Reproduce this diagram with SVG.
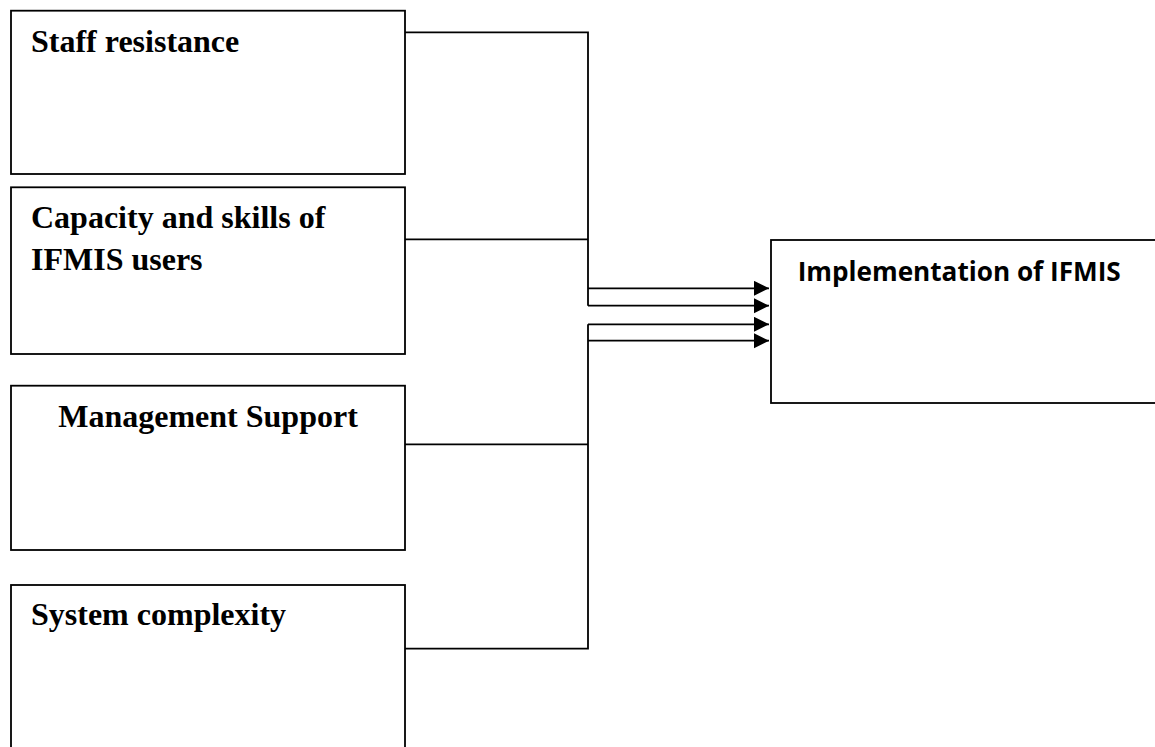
<svg xmlns="http://www.w3.org/2000/svg" width="1155" height="747" viewBox="0 0 1155 747">
<style>
.box{fill:#fff;stroke:#000;stroke-width:1.8}
.t{font-family:"Liberation Serif","Times New Roman",serif;font-weight:bold;font-size:32px;fill:#000}
.c{font-family:"Open Sans","Liberation Sans",sans-serif;font-weight:bold;font-size:26px;fill:#000}
.ln{fill:none;stroke:#000;stroke-width:1.8}
</style>
<defs>
<marker id="ah" markerUnits="userSpaceOnUse" markerWidth="16" markerHeight="16" refX="15" refY="7.5" orient="auto">
<path d="M0,0 L15,7.5 L0,15 Z" fill="#000"/>
</marker>
</defs>
<rect width="1155" height="747" fill="#fff"/>
<g id="connectors">
<path class="ln" d="M405,32.3 H588 V305.7"/>
<path class="ln" d="M405,239.3 H588"/>
<path class="ln" d="M588,288.3 H769" marker-end="url(#ah)"/>
<path class="ln" d="M588,305.7 H769" marker-end="url(#ah)"/>
<path class="ln" d="M405,444.3 H588"/>
<path class="ln" d="M405,648.7 H588 V324.3"/>
<path class="ln" d="M588,324.3 H769" marker-end="url(#ah)"/>
<path class="ln" d="M588,340.7 H769" marker-end="url(#ah)"/>
</g>
<g id="staff">
<rect class="box" x="11" y="10.7" width="394" height="163.3"/>
<text class="t" x="31" y="51.7">Staff resistance</text>
</g>
<g id="capacity">
<rect class="box" x="11" y="187.3" width="394" height="166.7"/>
<text class="t" x="31" y="227.7">Capacity and skills of</text>
<text class="t" x="31" y="270">IFMIS users</text>
</g>
<g id="management">
<rect class="box" x="11" y="385.7" width="394" height="164.3"/>
<text class="t" x="208" y="427" text-anchor="middle">Management Support</text>
</g>
<g id="complexity">
<rect class="box" x="11" y="585" width="394" height="180"/>
<text class="t" x="31" y="625">System complexity</text>
</g>
<g id="implementation">
<rect class="box" x="771" y="240" width="400" height="163"/>
<text class="c" x="797.7" y="280.7" textLength="323" lengthAdjust="spacingAndGlyphs">Implementation of IFMIS</text>
</g>
</svg>
